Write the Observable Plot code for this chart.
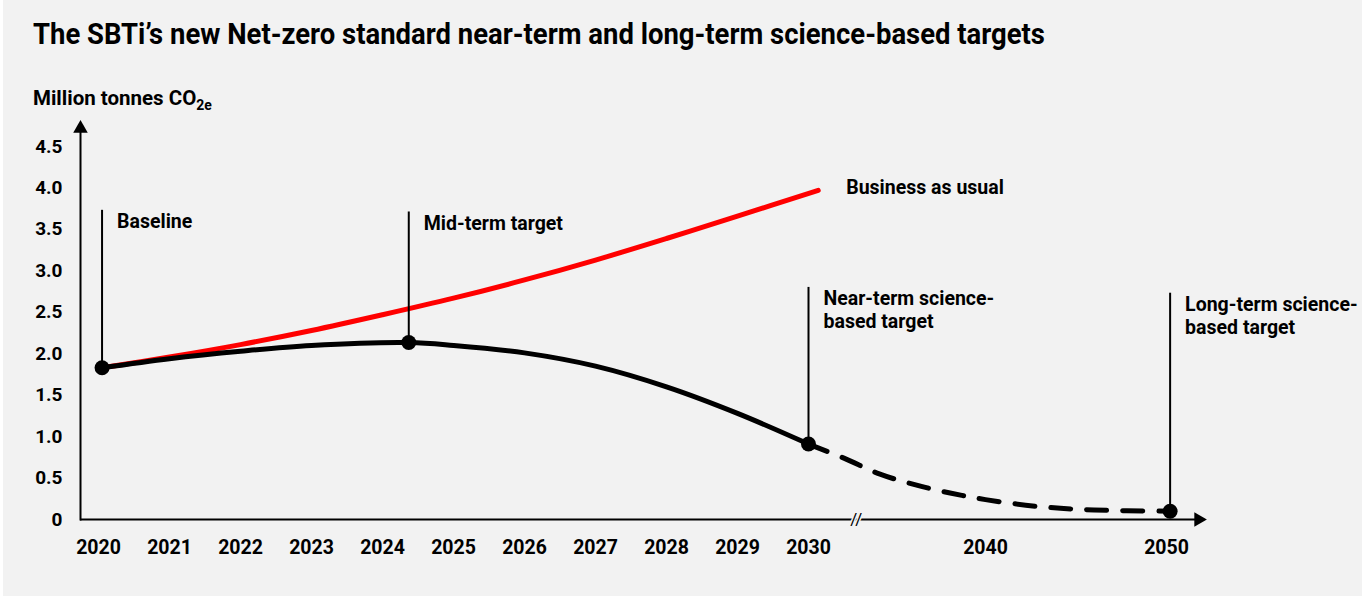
<!DOCTYPE html>
<html>
<head>
<meta charset="utf-8">
<script src="https://cdn.jsdelivr.net/npm/d3@7"></script>
<script src="https://cdn.jsdelivr.net/npm/@observablehq/plot@0.6"></script>
<style>
  html, body { margin: 0; padding: 0; background: #f2f2f2; }
  #wrap { width: 1362px; height: 596px; overflow: hidden; color: #000;
          background: linear-gradient(to right, #ffffff 0 3px, #f2f2f2 3px);
          font-family: Roboto, "Liberation Sans", sans-serif; }
  #header { position: relative; height: 110px; }
  #title { position: absolute; left: 33px; top: 20px; font-weight: 700; font-size: 29px;
           line-height: 1; white-space: nowrap; }
  #titleText { display: inline-block; transform-origin: 0 50%; }
  #ylabel { position: absolute; left: 33px; top: 88px; font-weight: 700; font-size: 20.5px;
            line-height: 1; white-space: nowrap; }
  #ylabel sub { font-size: 14px; vertical-align: -5px; line-height: 0; }
</style>
</head>
<body>
<div id="wrap">
  <div id="header">
    <div id="title"><span id="titleText">The SBTi’s new Net-zero standard near-term and long-term science-based targets</span></div>
    <div id="ylabel">Million tonnes CO<sub>2e</sub></div>
  </div>
  <div id="chart"></div>
</div>
<script>
// ---- data ----
const xTickYears = [2020, 2021, 2022, 2023, 2024, 2025, 2026, 2027, 2028, 2029, 2030, 2040, 2050];
const yTickValues = [0, 0.5, 1.0, 1.5, 2.0, 2.5, 3.0, 3.5, 4.0, 4.5];
const axisBreakYear = [2032.7];

const bauYears  = [2020.05, 2021, 2022, 2023, 2024, 2025, 2026, 2027, 2028, 2029, 2030.55];
const bauValues = [1.83, 1.96, 2.11, 2.28, 2.47, 2.67, 2.89, 3.13, 3.39, 3.66, 3.97];
const bauLabel = "Business as usual";

const pathYears  = [2020.05, 2021, 2022, 2023, 2024.37, 2025, 2026, 2027, 2028, 2029, 2030];
const pathValues = [1.83, 1.94, 2.03, 2.10, 2.135, 2.10, 2.01, 1.85, 1.60, 1.28, 0.91];

const longYears  = [2030, 2032, 2034, 2036, 2038, 2040, 2043, 2046, 2050.2];
const longValues = [0.91, 0.74, 0.55, 0.42, 0.32, 0.24, 0.155, 0.115, 0.10];

const milestoneNames = ["Baseline", "Mid-term target", "Near-term science-\nbased target", "Long-term science-\nbased target"];
const milestoneYears = [2020.05, 2024.37, 2030.0, 2050.2];
const milestoneValues = [1.83, 2.135, 0.91, 0.10];
const milestoneTops = [3.73, 3.71, 2.80, 2.73];

// ---- tables for Plot ----
const bau = bauYears.map((x, i) => ({x, y: bauValues[i]}));
const path = pathYears.map((x, i) => ({x, y: pathValues[i]}));
const longPath = longYears.map((x, i) => ({x, y: longValues[i]}));
const milestones = milestoneNames.map((name, i) => ({name, x: milestoneYears[i], y: milestoneValues[i], top: milestoneTops[i]}));

const ink = "#000000";
const bg = "#f2f2f2";

const chart = Plot.plot({
  width: 1362,
  height: 486,
  marginLeft: 80,
  marginRight: 164,
  marginTop: 18,
  marginBottom: 77,
  style: {background: "transparent", fontFamily: "Roboto, 'Liberation Sans', sans-serif", color: ink, overflow: "visible"},
  x: {type: "linear", domain: [2020, 2030, 2040, 2050], range: [98, 808, 985, 1166]},
  y: {type: "linear", domain: [0, 4.5], range: [409, 36]},
  marks: [
    Plot.axisY({ticks: yTickValues, tickSize: 0, tickPadding: 18, fontSize: 19, fontWeight: 700,
                tickFormat: d => d === 0 ? "0" : d.toFixed(1), label: null}),
    Plot.axisX({ticks: xTickYears, tickSize: 0, tickPadding: 21, fontSize: 19.5, fontWeight: 700,
                tickFormat: d => String(d), label: null}),
    Plot.frame({anchor: "left", stroke: ink, strokeWidth: 2}),
    Plot.ruleY([0], {stroke: ink, strokeWidth: 2}),
    Plot.dot([0], {frameAnchor: "top-left", symbol: "triangle", r: 5.4, fill: ink, stroke: null}),
    Plot.dot([0], {frameAnchor: "bottom-right", symbol: "triangle", r: 5.4, rotate: 90, fill: ink, stroke: null}),
    Plot.text(axisBreakYear, {x: d => d, y: 0, text: () => "//", fontSize: 17, fontWeight: 400,
                              fill: ink, stroke: bg, strokeWidth: 3, paintOrder: "stroke"}),
    Plot.line(bau, {x: "x", y: "y", stroke: "#ff0000", strokeWidth: 5, curve: "catmull-rom"}),
    Plot.text(bau, Plot.selectLast({x: "x", y: "y", text: () => bauLabel, textAnchor: "start", dx: 28, dy: -3,
                                    fontSize: 19.5, fontWeight: 700, fill: ink})),
    Plot.line(path, {x: "x", y: "y", stroke: ink, strokeWidth: 5, curve: "catmull-rom"}),
    Plot.line(longPath, {x: "x", y: "y", stroke: ink, strokeWidth: 5, strokeDasharray: "20,16", curve: "catmull-rom"}),
    Plot.ruleX(milestones, {x: "x", y1: "y", y2: "top", stroke: ink, strokeWidth: 2}),
    Plot.dot(milestones, {x: "x", y: "y", r: 7.5, fill: ink, stroke: null}),
    Plot.text(milestones, {x: "x", y: "top", text: "name", textAnchor: "start", lineAnchor: "top",
                           dx: 15, dy: 1, fontSize: 19.5, fontWeight: 700, lineHeight: 1.2, fill: ink})
  ]
});
document.getElementById("chart").appendChild(chart);

// condense the title horizontally to the reference span (33px -> 1045px)
const t = document.getElementById("titleText");
const w = t.getBoundingClientRect().width;
t.style.transform = "scaleX(" + (1012 / w).toFixed(4) + ")";
</script>
</body>
</html>
